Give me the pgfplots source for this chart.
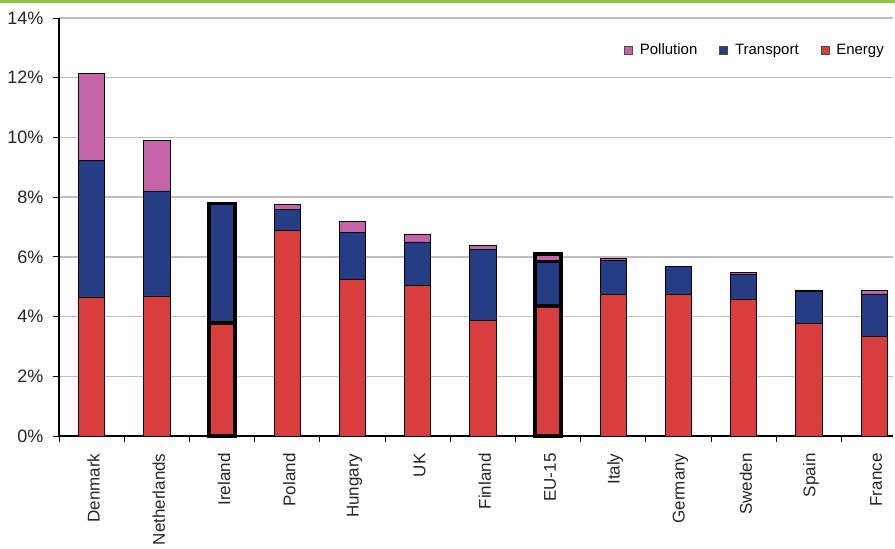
\documentclass[border=0pt]{standalone}
\usepackage{pgfplots}
\pgfplotsset{compat=1.18}
\usepackage{pgfplotstable}
\usepackage{fontspec}
\setmainfont{Liberation Sans}
\definecolor{energy}{RGB}{216,62,62}
\definecolor{transport}{RGB}{37,61,132}
\definecolor{pollution}{RGB}{196,99,166}
\definecolor{topgreen}{RGB}{140,198,62}
\definecolor{gridgrey}{RGB}{190,190,190}
\pgfplotstableread{
x name E T P
0 Denmark 4.66 4.56 2.91
1 Netherlands 4.69 3.52 1.68
2 Ireland 3.79 3.99 0
3 Poland 6.88 0.70 0.19
4 Hungary 5.23 1.59 0.38
5 UK 5.03 1.47 0.27
6 Finland 3.87 2.39 0.12
7 EU-15 4.35 1.50 0.25
8 Italy 4.75 1.13 0.07
9 Germany 4.75 0.92 0
10 Sweden 4.59 0.82 0.07
11 Spain 3.76 1.10 0.03
12 France 3.33 1.43 0.12
}\data
\begin{document}
\begin{tikzpicture}
\useasboundingbox (0,0) rectangle (895pt,549pt);
\fill[topgreen] (0,546pt) rectangle (895pt,549pt);
\begin{axis}[
  at={(59pt,113pt)}, anchor=south west,
  scale only axis, width=834pt, height=418pt,
  xmin=-0.5, xmax=12.29, ymin=0, ymax=14,
  ybar stacked, bar width=0.4,
  axis lines=left, axis line style={-, black, line width=1.2pt},
  ytick={0,2,...,14},
  yticklabel={\pgfmathprintnumber{\tick}\%},
  /pgf/number format/assume math mode=true,
  ymajorgrids, grid style={gridgrey, line width=1.5pt},
  xtick={0,...,12},
  xticklabels from table={\data}{name},
  minor xtick={-0.5,0.5,...,11.5},
  tick align=outside,
  major x tick style={draw=none},
  minor tick length=6pt, major tick length=6pt,
  tick style={black, line width=0.8pt},
  ticklabel style={text=black!85},
  yticklabel style={font=\fontsize{18pt}{20pt}\selectfont, xshift=-6pt},
  xticklabel style={font=\fontsize{17pt}{19pt}\selectfont, rotate=90, anchor=east, yshift=-2pt, xshift=-8pt},
  legend style={at={(1,1)}, anchor=north east, xshift=-7pt, yshift=-23pt, draw=none, fill=none,
    font=\fontsize{15pt}{17pt}\selectfont, inner sep=0pt,
    nodes={text height=11pt, text depth=3.5pt},
    /tikz/every odd column/.append style={column sep=5pt},
    /tikz/every even column/.append style={column sep=20pt}},
  legend columns=3,
  legend cell align=left,
]
\addlegendimage{legend image code/.code={\draw[fill=pollution, draw=black!70, line width=0.6pt] (0pt,-4pt) rectangle (8pt,4pt);}}
\addlegendentry{Pollution}
\addlegendimage{legend image code/.code={\draw[fill=transport, draw=black!70, line width=0.6pt] (0pt,-4pt) rectangle (8pt,4pt);}}
\addlegendentry{Transport}
\addlegendimage{legend image code/.code={\draw[fill=energy, draw=black!70, line width=0.6pt] (0pt,-4pt) rectangle (8pt,4pt);}}
\addlegendentry{Energy}
\addplot[fill=energy, draw=black, line width=0.7pt, forget plot] table[x=x, y=E] {\data};
\addplot[fill=transport, draw=black, line width=0.7pt, forget plot] table[x=x, y=T] {\data};
\addplot[fill=pollution, draw=black, line width=0.7pt, forget plot] table[x=x, y=P] {\data};
\end{axis}
\begin{axis}[
  at={(59pt,113pt)}, anchor=south west,
  scale only axis, width=834pt, height=418pt,
  xmin=-0.5, xmax=12.29, ymin=0, ymax=14,
  ybar stacked, bar width=0.4,
  hide axis, clip=false,
]
\addplot[fill=none, draw=black, line width=3.5pt, skip coords between index={0}{2}, skip coords between index={3}{7}, skip coords between index={8}{13}] table[x=x, y=E] {\data};
\addplot[fill=none, draw=black, line width=3.5pt, skip coords between index={0}{2}, skip coords between index={3}{7}, skip coords between index={8}{13}] table[x=x, y=T] {\data};
\addplot[fill=none, draw=black, line width=3.5pt, skip coords between index={0}{2}, skip coords between index={3}{7}, skip coords between index={8}{13}] table[x=x, y=P] {\data};
\end{axis}
\end{tikzpicture}
\end{document}
